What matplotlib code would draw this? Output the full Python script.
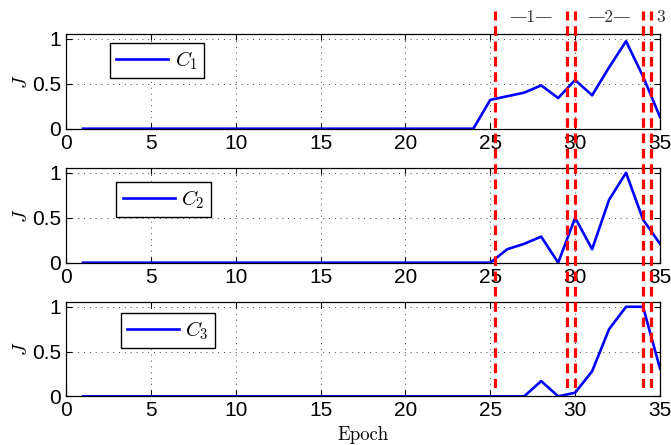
"""Three stacked J-vs-epoch panels with phase boundaries."""

import matplotlib
matplotlib.use("Agg")
import matplotlib.pyplot as plt
import numpy as np

plt.rcParams["mathtext.fontset"] = "cm"
plt.rcParams["font.family"] = ["Liberation Sans", "DejaVu Sans"]

epochs = np.arange(1, 36)
zeros_24 = [0.0] * 23  # epochs 1..23

c1 = zeros_24 + [0.0, 0.32, 0.36, 0.40, 0.48, 0.34, 0.54, 0.37, 0.68, 0.97, 0.58, 0.13]
c2 = zeros_24 + [0.0, 0.0, 0.15, 0.21, 0.29, 0.0, 0.50, 0.15, 0.70, 1.0, 0.48, 0.21]
c3 = zeros_24 + [0.0, 0.0, 0.0, 0.0, 0.17, 0.0, 0.04, 0.28, 0.75, 1.0, 1.0, 0.31]
series = [c1, c2, c3]
names = [r"$C_1$", r"$C_2$", r"$C_3$"]

phase_bounds = [25.25, 29.5, 30.0, 34.0, 34.45]
phase_labels = ["\u20141\u2014", "\u20142\u2014", "3"]
phase_label_x = [(25.25 + 29.5) / 2, (30.0 + 34.0) / 2, 35.05]

W, H = 671, 445
fig = plt.figure(figsize=(W / 100, H / 100), dpi=100)

left, right = 66 / W, 660 / W
panels_px = [(34, 128.7), (168.3, 262.7), (302.3, 396.3)]
legend_anchor = [(0.074, 0.902), (0.085, 0.853), (0.092, 0.889)]

for i, ((top, bot), y, name) in enumerate(zip(panels_px, series, names)):
    ax = fig.add_axes([left, 1 - bot / H, right - left, (bot - top) / H])
    ax.plot(epochs, y, color="#0000ff", lw=1.9, label=name)
    ax.set_xlim(0, 35)
    ax.set_ylim(0, 1.05)
    ax.set_xticks(np.arange(0, 36, 5))
    ax.set_yticks([0, 0.5, 1])
    ax.set_yticklabels(["0", "0.5", "1"])
    ax.grid(True, linestyle=(0, (1, 5)), color="#444444", lw=0.7)
    ax.tick_params(direction="in", top=True, right=True, length=4,
                   labelsize=15, pad=3.5, width=0.8)
    for s in ax.spines.values():
        s.set_linewidth(0.9)
    ax.set_ylabel(r"$J$", fontsize=14, labelpad=1)
    leg = ax.legend(loc="upper left", bbox_to_anchor=legend_anchor[i],
                    fancybox=False, framealpha=1, edgecolor="black",
                    fontsize=15, handlelength=2.5, borderpad=0.3,
                    handletextpad=0.3, borderaxespad=0)
    leg.get_frame().set_linewidth(1.0)
    if i == 2:
        ax.set_xlabel("Epoch", family=["cmr10", "DejaVu Serif"], fontsize=13.5)
        ax.xaxis.set_label_coords(0.5, -(440.5 - bot) / (bot - top))
        ax.xaxis.label.set_va("baseline")

# overlay spanning all panels for the phase boundaries
top_px, bot_px = 11, 388
ov = fig.add_axes([left, 1 - bot_px / H, right - left, (bot_px - top_px) / H])
ov.set_xlim(0, 35)
ov.set_ylim(0, 1)
ov.axis("off")
for xb in phase_bounds:
    ov.axvline(xb, color="#ff0000", lw=2.3, linestyle=(0, (3.0, 1.8)))

for lx, lab in zip(phase_label_x, phase_labels):
    fig.text(ov.transData.transform((lx, 0))[0] / W, 1 - 17 / H, lab,
             ha="center", va="center", fontsize=12.5, color="#333333",
             family=["cmr10", "DejaVu Serif"])

fig.savefig("out.png", dpi=100)
